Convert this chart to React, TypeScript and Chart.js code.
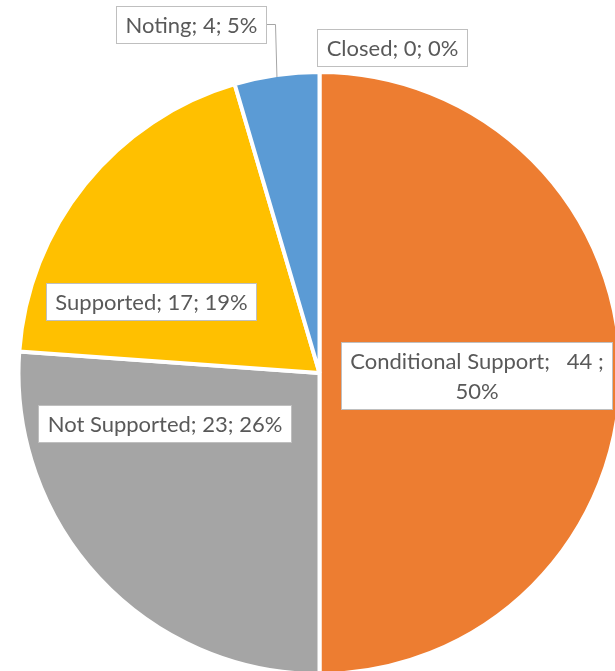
import { useEffect, useRef } from 'react';
import { Chart, registerables } from 'chart.js';

Chart.register(...registerables);

const categories = ['Closed', 'Conditional Support', 'Not Supported', 'Supported', 'Noting'];
const values = [0, 44, 23, 17, 4];
const percents = ['0%', '50%', '26%', '19%', '5%'];
const colors = ['#4472C4', '#ED7D31', '#A5A5A5', '#FFC000', '#5B9BD5'];

// label text lines (as shown in the source, Conditional label wraps onto two lines)
const labelLines: string[][] = [
  [`${categories[0]}; ${values[0]}; ${percents[0]}`],
  [`${categories[1]};   ${values[1]} ;`, percents[1]],
  [`${categories[2]}; ${values[2]}; ${percents[2]}`],
  [`${categories[3]}; ${values[3]}; ${percents[3]}`],
  [`${categories[4]}; ${values[4]}; ${percents[4]}`],
];

// label box centres, relative to pie centre in units of the radius
const labelOffsets: [number, number][] = [
  [0.2425, -1.087],
  [0.525, 0.01],
  [-0.52, 0.169],
  [-0.562, -0.239],
  [-0.431, -1.167],
];
const labelLeader = [false, false, false, false, true];

const FONT = '22px Lato';
const LINE_H = 30;
const PAD_X = 9;
const PAD_Y = 3.5;
const BORDER_W = 4;

const labelPlugin = {
  id: 'boxLabels',
  afterDatasetsDraw(chart: any) {
    const ctx: CanvasRenderingContext2D = chart.ctx;
    const meta = chart.getDatasetMeta(0);
    ctx.save();
    ctx.font = FONT;
    meta.data.forEach((arc: any, i: number) => {
      const cx = arc.x;
      const cy = arc.y;
      const R = arc.outerRadius - BORDER_W / 2;
      const lines = labelLines[i];
      const [fx, fy] = labelOffsets[i];
      const bx = cx + fx * R;
      const by = cy + fy * R;
      const tw = Math.max(...lines.map((l) => ctx.measureText(l).width));
      const w = Math.round(tw + 2 * PAD_X);
      const h = Math.round(lines.length * LINE_H + 2 * PAD_Y);
      const left = Math.round(bx - w / 2) + 0.5;
      const top = Math.round(by - h / 2) + 0.5;
      if (labelLeader[i]) {
        const mid = (arc.startAngle + arc.endAngle) / 2;
        const ex = cx + Math.cos(mid) * R;
        const ey = cy + Math.sin(mid) * R;
        const sx = left + w;
        const sy = Math.round(by) + 0.5;
        ctx.beginPath();
        ctx.moveTo(sx, sy);
        ctx.lineTo(sx + 9, sy);
        ctx.lineTo(ex, ey);
        ctx.strokeStyle = '#A6A6A6';
        ctx.lineWidth = 1;
        ctx.stroke();
      }
      ctx.fillStyle = '#FFFFFF';
      ctx.fillRect(left, top, w, h);
      ctx.strokeStyle = '#BFBFBF';
      ctx.lineWidth = 1;
      ctx.strokeRect(left, top, w, h);
      ctx.fillStyle = '#595959';
      ctx.textAlign = 'center';
      ctx.textBaseline = 'middle';
      lines.forEach((l, k) => {
        ctx.fillText(l, left + w / 2, top + PAD_Y + LINE_H * (k + 0.5) + 1);
      });
    });
    ctx.restore();
  },
};

export default function App() {
  const ref = useRef<HTMLCanvasElement | null>(null);
  useEffect(() => {
    if (!ref.current) return;
    const chart = new Chart(ref.current, {
      type: 'pie',
      data: {
        labels: categories,
        datasets: [
          {
            data: values,
            backgroundColor: colors,
            borderColor: '#FFFFFF',
            borderWidth: BORDER_W,
          },
        ],
      },
      options: {
        responsive: false,
        animation: false,
        radius: 301,
        layout: { padding: { left: 24, top: 75, right: 0, bottom: 0 } },
        plugins: {
          legend: { display: false },
          tooltip: { enabled: false },
        },
      } as any,
      plugins: [labelPlugin],
    });
    return () => chart.destroy();
  }, []);
  return (
    <div style={{ position: 'fixed', left: 0, top: 0, width: 615, height: 671, background: '#FFFFFF' }}>
      <canvas ref={ref} width={615} height={671} />
    </div>
  );
}
